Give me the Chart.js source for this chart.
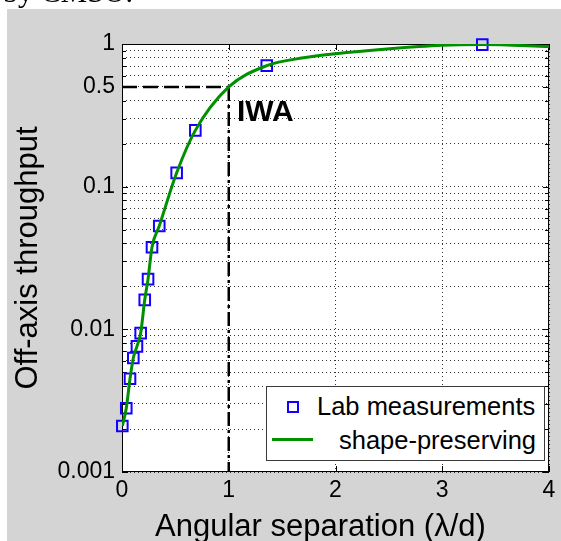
<!DOCTYPE html>
<html>
<head>
<meta charset="utf-8">
<title>Off-axis throughput</title>
<script src="https://cdn.jsdelivr.net/npm/chart.js@4.4.1/dist/chart.umd.min.js"></script>
<style>
    html, body { margin: 0; padding: 0; background: #fff; }
    #figura {
        position: relative;
        width: 561px;
        height: 541px;
        overflow: hidden;
        font-family: 'Liberation Sans', Helvetica, Arial, sans-serif;
        color: #000;
    }
    #grafica { position: absolute; left: 0; top: 0; }
    .cabecera {
        position: absolute; left: 3px; top: -23px;
        font: 30px/30px 'Liberation Serif', 'Times New Roman', serif;
        white-space: nowrap;
    }
    .etiqueta-iwa {
        position: absolute; left: 237px; top: 96px;
        font-size: 30px; line-height: 30px; font-weight: bold;
        white-space: nowrap;
    }
    .titulo-x {
        position: absolute; left: 155px; top: 510px;
        font-size: 31px; line-height: 31px;
        white-space: nowrap;
    }
    .leyenda {
        position: absolute; left: 266px; top: 386px;
        width: 279px; height: 75px; box-sizing: border-box;
        background: #fff; border: 1px solid #3a3a3a;
        font-size: 25.5px; line-height: 25.5px;
    }
    .leyenda .marca {
        position: absolute; left: 20px; top: 14px;
        width: 12px; height: 12px; box-sizing: border-box;
        border: 2px solid #1400ff;
    }
    .leyenda .linea {
        position: absolute; left: 5px; top: 51px;
        width: 41px; height: 3px; background: #009000;
    }
    .leyenda .txt { position: absolute; white-space: nowrap; }
</style>
</head>
<body>
<div id="figura">
    <canvas id="grafica" width="561" height="541"></canvas>
    <div class="cabecera">by CMSO.</div>
    <div class="etiqueta-iwa">IWA</div>
    <div class="titulo-x">Angular separation (λ/d)</div>
    <div class="leyenda">
        <div class="marca"></div>
        <div class="txt" style="left:50px; top:7px;">Lab measurements</div>
        <div class="linea"></div>
        <div class="txt" style="right:8px; top:41px;">shape-preserving</div>
    </div>
</div>
<script>
// Mediciones de laboratorio (cuadros azules)
const labX = [0.003, 0.04, 0.075, 0.106, 0.14, 0.175, 0.213, 0.244, 0.281, 0.349, 0.512, 0.687, 1.356, 3.375];
const labY = [0.0021, 0.0028, 0.0045, 0.0063, 0.0076, 0.0094, 0.0161, 0.0225, 0.0376, 0.053, 0.125, 0.248, 0.705, 0.99];

// Curva "shape-preserving"
const curvaX = [0.003, 0.04, 0.075, 0.106, 0.14, 0.175, 0.213, 0.244, 0.281, 0.349, 0.512, 0.687, 1.0, 1.356, 1.7, 2.0, 2.48, 3.0, 3.375, 4.0];
const curvaY = [0.0021, 0.0028, 0.0045, 0.0063, 0.0076, 0.0094, 0.0161, 0.0225, 0.0376, 0.053, 0.125, 0.248, 0.5, 0.705, 0.80, 0.855, 0.923, 0.98, 0.99, 0.96];

// Lineas IWA (horizontal discontinua y vertical punto-raya)
const iwaHorizX = [0, 1];
const iwaHorizY = [0.5, 0.5];
const iwaVertX = [1, 1];
const iwaVertY = [0.5, 0.001];

// Ticks
const ticksX = [0, 1, 2, 3, 4];
const etiquetasY = [0.001, 0.01, 0.1, 0.5, 1];
const decadasY = [0.001, 0.01, 0.1];

const FUENTE = "'Liberation Sans', Helvetica, Arial, sans-serif";

function puntos(xs, ys) {
    return xs.map((x, i) => ({ x: x, y: ys[i] }));
}

// Ticks menores del eje log: 1..9 por decada, mas el 1
function ticksMenoresY() {
    const t = [];
    decadasY.forEach(d => {
        for (let m = 1; m <= 9; m++) t.push(+(m * d).toPrecision(6));
    });
    t.push(1);
    return t;
}

function esEtiquetaY(v) {
    return etiquetasY.some(e => Math.abs(e - v) < e * 1e-6);
}

// Fondo gris de la figura y area blanca de los ejes
const fondoFigura = {
    id: 'fondoFigura',
    beforeDraw(chart) {
        const { ctx, chartArea: a } = chart;
        ctx.save();
        ctx.fillStyle = '#fff';
        ctx.fillRect(0, 0, chart.width, chart.height);
        ctx.fillStyle = '#d4d4d4';
        ctx.fillRect(7, 9, chart.width - 7, chart.height - 9);
        ctx.fillStyle = '#fff';
        ctx.fillRect(a.left, a.top, a.right - a.left, a.bottom - a.top);
        ctx.restore();
    }
};

// Caja de los ejes con marcas hacia dentro (estilo MATLAB)
const cajaEjes = {
    id: 'cajaEjes',
    beforeDatasetsDraw(chart) {
        const { ctx, chartArea: a, scales } = chart;
        ctx.save();
        ctx.strokeStyle = '#000';
        ctx.lineWidth = 1;
        ctx.strokeRect(Math.round(a.left) + 0.5, Math.round(a.top) + 0.5,
            Math.round(a.right - a.left) - 1, Math.round(a.bottom - a.top) - 1);

        ctx.beginPath();
        scales.y.ticks.forEach(t => {
            const y = Math.round(scales.y.getPixelForValue(t.value)) + 0.5;
            const largo = esEtiquetaY(t.value) ? 6 : 4;
            ctx.moveTo(a.left, y); ctx.lineTo(a.left + largo, y);
            ctx.moveTo(a.right, y); ctx.lineTo(a.right - largo, y);
        });
        scales.x.ticks.forEach(t => {
            const x = Math.round(scales.x.getPixelForValue(t.value)) + 0.5;
            ctx.moveTo(x, a.bottom); ctx.lineTo(x, a.bottom - 6);
            ctx.moveTo(x, a.top); ctx.lineTo(x, a.top + 6);
        });
        ctx.stroke();
        ctx.restore();
    }
};

function cargarGrafica() {
    const ctx = document.getElementById('grafica');

    new Chart(ctx, {
        type: 'scatter',
        data: {
            datasets: [
                {
                    label: 'shape-preserving',
                    data: puntos(curvaX, curvaY),
                    showLine: true,
                    borderColor: '#009000',
                    borderWidth: 3,
                    pointRadius: 0,
                    cubicInterpolationMode: 'monotone',
                    fill: false,
                    order: 1
                },
                {
                    label: 'Lab measurements',
                    data: puntos(labX, labY),
                    pointStyle: 'rect',
                    pointRadius: 7.5,
                    pointBorderWidth: 2,
                    pointBorderColor: '#1400ff',
                    pointBackgroundColor: 'rgba(0,0,0,0)',
                    clip: false,
                    order: 2
                },
                {
                    label: 'iwa-h',
                    data: puntos(iwaHorizX, iwaHorizY),
                    showLine: true,
                    borderColor: '#000',
                    borderWidth: 2.5,
                    borderDash: [15, 6],
                    pointRadius: 0,
                    order: 3
                },
                {
                    label: 'iwa-v',
                    data: puntos(iwaVertX, iwaVertY),
                    showLine: true,
                    borderColor: '#000',
                    borderWidth: 2.5,
                    borderDash: [14, 4, 3, 4],
                    pointRadius: 0,
                    order: 3
                }
            ]
        },
        options: {
            responsive: false,
            animation: false,
            devicePixelRatio: 1,
            events: [],
            layout: { padding: { top: 44, right: 12, left: 0, bottom: 0 } },
            plugins: {
                legend: { display: false },
                tooltip: { enabled: false }
            },
            scales: {
                x: {
                    type: 'linear',
                    min: 0,
                    max: 4,
                    afterBuildTicks: s => { s.ticks = ticksX.map(v => ({ value: v })); },
                    afterFit: s => { s.height = 69; },
                    grid: { color: 'rgba(0,0,0,0.8)', lineWidth: 1, drawTicks: false, borderDash: [1, 3] },
                    border: { display: false, dash: [1, 3] },
                    ticks: {
                        color: '#000',
                        padding: 5,
                        maxRotation: 0,
                        autoSkip: false,
                        font: { family: FUENTE, size: 23 },
                        callback: v => String(v)
                    },
                    title: { display: false }
                },
                y: {
                    type: 'logarithmic',
                    min: 0.001,
                    max: 1,
                    afterBuildTicks: s => { s.ticks = ticksMenoresY().map(v => ({ value: v })); },
                    afterFit: s => { s.width = 122; },
                    grid: { color: 'rgba(0,0,0,0.8)', lineWidth: 1, drawTicks: false, borderDash: [1, 3] },
                    border: { display: false, dash: [1, 3] },
                    ticks: {
                        color: '#000',
                        padding: 7,
                        autoSkip: false,
                        font: { family: FUENTE, size: 23 },
                        callback: v => esEtiquetaY(v) ? String(v) : ''
                    },
                    title: {
                        display: true,
                        text: 'Off-axis throughput',
                        color: '#000',
                        font: { family: FUENTE, size: 31, lineHeight: 1.2 },
                        padding: { top: 10, bottom: 0 }
                    }
                }
            }
        },
        plugins: [fondoFigura, cajaEjes]
    });
}

document.addEventListener('DOMContentLoaded', cargarGrafica);
</script>
</body>
</html>
